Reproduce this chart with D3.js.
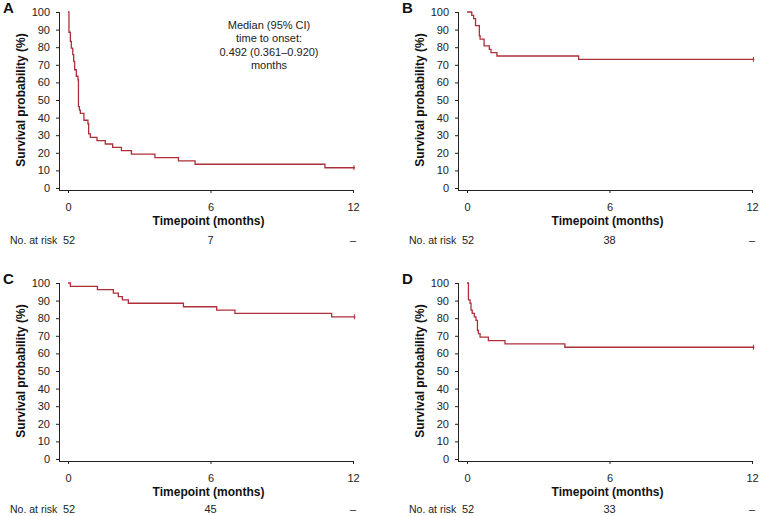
<!DOCTYPE html>
<html>
<head>
<meta charset="utf-8">
<script src="https://cdn.jsdelivr.net/npm/d3@7"></script>
<style>
  body { margin: 0; background: #fff; }
  svg { font-family: "Liberation Sans", Arial, sans-serif; }
</style>
</head>
<body>
<div id="chart"></div>
<script>
// step curves: time (months) and survival (%)
const timesA = [0, 0.04, 0.10, 0.14, 0.20, 0.24, 0.28, 0.35, 0.42, 0.44, 0.48, 0.52, 0.67, 0.84, 0.87, 0.94, 1.22, 1.57, 1.88, 2.25, 2.67, 3.66, 4.65, 5.35, 10.82, 12.08];
const survA  = [100, 88.5, 83.3, 79.5, 75.8, 72.0, 67.2, 63.5, 61.5, 46.2, 44.3, 42.4, 38.5, 36.5, 30.8, 28.8, 26.9, 25.0, 23.1, 21.2, 19.2, 17.3, 15.4, 13.5, 11.5, 11.5];

const timesB = [0, 0.20, 0.28, 0.36, 0.52, 0.55, 0.72, 0.94, 1.01, 1.26, 4.70, 12.1];
const survB  = [100, 98.1, 96.2, 92.3, 86.5, 84.6, 80.8, 78.8, 76.9, 75.0, 73.1, 73.1];

const timesC = [0, 0.10, 1.24, 1.91, 2.12, 2.29, 2.54, 4.86, 6.26, 7.03, 11.1, 12.1];
const survC  = [100, 98.1, 96.2, 94.2, 92.3, 90.4, 88.5, 86.5, 84.6, 82.7, 80.8, 80.8];

const timesD = [0, 0.06, 0.13, 0.17, 0.22, 0.31, 0.38, 0.44, 0.48, 0.55, 0.90, 1.60, 4.12, 12.1];
const survD  = [100, 90.4, 88.5, 84.6, 82.7, 80.8, 78.8, 73.1, 71.2, 69.2, 67.3, 65.4, 63.5, 63.5];

const panelLabels = ["A", "B", "C", "D"];
const xTicks = [0, 6, 12];
const yTicks = [0, 10, 20, 30, 40, 50, 60, 70, 80, 90, 100];
const atRisk = [
    ["52", "7", "–"],
    ["52", "38", "–"],
    ["52", "45", "–"],
    ["52", "33", "–"]
];
const medianNote = ["Median (95% CI)", "time to onset:", "0.492 (0.361–0.920)", "months"];

const width = 760;
const height = 516;
const lineColor = "#ad2f3a";

const svg = d3.select("#chart")
    .append("svg")
    .attr("width", width)
    .attr("height", height);

// where t=0 / 100% sits for each panel
const origins = [
    { x: 68, y: 12 },
    { x: 467, y: 12 },
    { x: 68, y: 283 },
    { x: 467, y: 283 }
];
const plotW = 285;
const plotH = 176;

const series = [
    timesA.map((t, i) => ({ t: t, s: survA[i] })),
    timesB.map((t, i) => ({ t: t, s: survB[i] })),
    timesC.map((t, i) => ({ t: t, s: survC[i] })),
    timesD.map((t, i) => ({ t: t, s: survD[i] }))
];

series.forEach((data, p) => {
    const o = origins[p];
    const g = svg.append("g");

    const x = d3.scaleLinear().domain([0, 12]).range([o.x, o.x + plotW]);
    const y = d3.scaleLinear().domain([0, 100]).range([o.y + plotH, o.y]);

    const axisY = o.y + plotH + 2;
    const axisX = o.x - 9;

    // y axis
    const yAxis = g.append("g")
        .attr("transform", `translate(${axisX},0)`)
        .call(d3.axisLeft(y).tickValues(yTicks).tickSize(3).tickPadding(6).tickSizeOuter(0));
    yAxis.select(".domain").remove();
    yAxis.selectAll("line").attr("stroke", "#222");
    yAxis.selectAll("text").style("font-size", "11px").attr("fill", "#222");

    // x axis
    const xAxis = g.append("g")
        .attr("transform", `translate(0,${axisY})`)
        .call(d3.axisBottom(x).tickValues(xTicks).tickSize(3).tickPadding(10).tickSizeOuter(0));
    xAxis.select(".domain").remove();
    xAxis.selectAll("line").attr("stroke", "#222");
    xAxis.selectAll("text").style("font-size", "11px").attr("fill", "#222");

    g.append("line")
        .attr("x1", axisX).attr("x2", axisX)
        .attr("y1", y(100)).attr("y2", axisY)
        .attr("stroke", "#222")
        .attr("shape-rendering", "crispEdges");
    g.append("line")
        .attr("x1", axisX).attr("x2", x(12))
        .attr("y1", axisY).attr("y2", axisY)
        .attr("stroke", "#222")
        .attr("shape-rendering", "crispEdges");

    // survival curve
    const line = d3.line()
        .x(d => x(d.t))
        .y(d => y(d.s))
        .curve(d3.curveStepAfter);

    g.append("path")
        .datum(data)
        .attr("fill", "none")
        .attr("stroke", lineColor)
        .attr("stroke-width", 1.3)
        .attr("d", line);

    // censor mark at the end
    const last = data[data.length - 1];
    g.append("line")
        .attr("x1", x(last.t) - 1).attr("x2", x(last.t) - 1)
        .attr("y1", y(last.s) - 2.5).attr("y2", y(last.s) + 2.5)
        .attr("stroke", lineColor)
        .attr("stroke-width", 1);

    // titles
    g.append("text")
        .attr("x", o.x + plotW / 2 - 2)
        .attr("y", axisY + 35)
        .attr("text-anchor", "middle")
        .style("font-size", "12px")
        .style("font-weight", "bold")
        .attr("fill", "#111")
        .text("Timepoint (months)");

    g.append("text")
        .attr("transform", `translate(${o.x - 43},${o.y + plotH / 2}) rotate(-90)`)
        .attr("text-anchor", "middle")
        .style("font-size", "12px")
        .style("font-weight", "bold")
        .attr("fill", "#111")
        .text("Survival probability (%)");

    g.append("text")
        .attr("x", o.x - 65)
        .attr("y", o.y + 1)
        .style("font-size", "15px")
        .style("font-weight", "bold")
        .attr("fill", "#111")
        .text(panelLabels[p]);

    // numbers at risk
    const riskY = axisY + (p < 2 ? 54 : 52);
    g.append("text")
        .attr("x", o.x - 58)
        .attr("y", riskY)
        .style("font-size", "10.5px")
        .attr("fill", "#222")
        .text("No. at risk");
    atRisk[p].forEach((v, i) => {
        g.append("text")
            .attr("x", x(xTicks[i]) + (i === 0 ? 1 : 0))
            .attr("y", riskY)
            .attr("text-anchor", "middle")
            .style("font-size", "11px")
            .attr("fill", "#222")
            .text(v);
    });
});

// median note on panel A
svg.append("g")
    .selectAll("text")
    .data(medianNote)
    .enter()
    .append("text")
    .attr("x", 269)
    .attr("y", (d, i) => 29 + i * 13.3)
    .attr("text-anchor", "middle")
    .style("font-size", "11px")
    .attr("fill", "#222")
    .text(d => d);
</script>
</body>
</html>
